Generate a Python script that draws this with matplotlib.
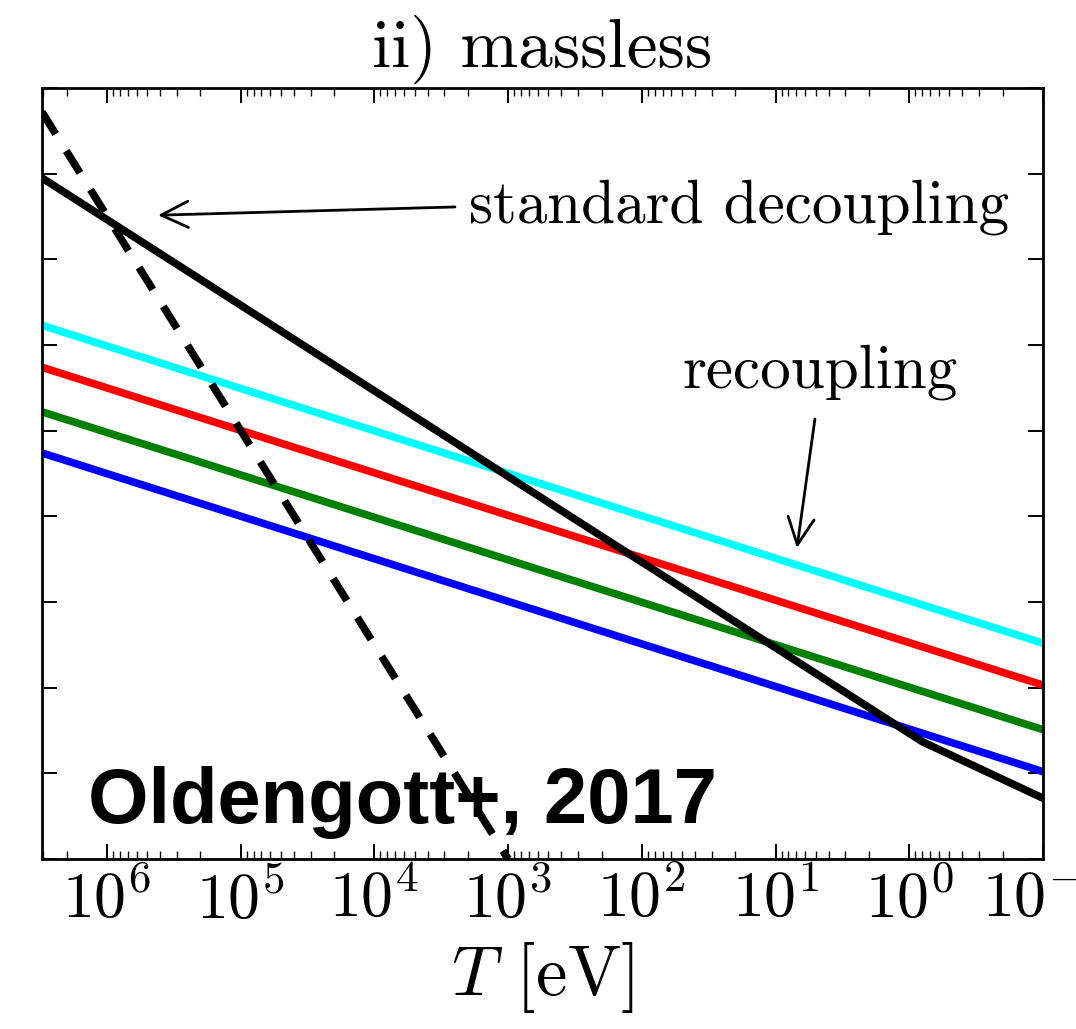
import matplotlib.pyplot as plt
import matplotlib.ticker as mticker

plt.rcParams['font.family'] = 'serif'
plt.rcParams['font.serif'] = ['cmr10']
plt.rcParams['mathtext.fontset'] = 'cm'
plt.rcParams['axes.formatter.use_mathtext'] = True

# values (T in eV, y in arbitrary units, log scale)
T_edges = [3.06e6, 0.1]
cyan_y = [10**2.23, 10**-1.48]
red_y = [10**1.74, 10**-1.97]
green_y = [10**1.22, 10**-2.49]
blue_y = [10**0.74, 10**-2.98]

std_T = [3.06e6, 0.80, 0.1]
std_y = [10**3.95, 10**-2.63, 10**-3.29]

dash_T = [3.06e6, 1.0e3]
dash_y = [10**4.72, 10**-4.0]

fig = plt.figure(figsize=(10.76, 10.29), dpi=100)
ax = fig.add_axes([0.039, 0.1652, 0.9303, 0.7493])

lw = 5.5
ax.plot(T_edges, cyan_y, color='cyan', lw=lw)
ax.plot(T_edges, red_y, color='red', lw=lw)
ax.plot(T_edges, green_y, color='green', lw=lw)
ax.plot(T_edges, blue_y, color='blue', lw=lw)
dl, = ax.plot(dash_T, dash_y, color='black', lw=lw, ls='--')
dl.set_dashes((3.4, 2.6))
ax.plot(std_T, std_y, color='black', lw=lw)

ax.set_xscale('log')
ax.set_yscale('log')
ax.set_xlim(3.06e6, 0.1)
ax.set_ylim(1e-4, 1e5)

ax.xaxis.set_major_locator(mticker.LogLocator(base=10, numticks=20))
ax.xaxis.set_minor_locator(mticker.LogLocator(base=10, subs=range(2, 10), numticks=20))
ax.yaxis.set_major_locator(mticker.LogLocator(base=10, numticks=20))
ax.yaxis.set_minor_locator(mticker.NullLocator())
ax.yaxis.set_major_formatter(mticker.NullFormatter())

ax.tick_params(which='both', direction='in', top=True, right=True)
ax.tick_params(which='major', length=11, width=1.4, labelsize=46, pad=8)
ax.tick_params(which='minor', length=6, width=1.0)
for s in ax.spines.values():
    s.set_linewidth(2)

ax.set_title('ii) massless', fontsize=50, pad=15)
ax.set_xlabel(r'$T$ [eV]', fontsize=51, labelpad=6)

# annotations
ax.text(0.4266, 0.825, 'standard decoupling', transform=ax.transAxes,
        fontsize=44, va='baseline', ha='left')
ax.annotate('', xy=(0.1159, 0.835), xytext=(0.4126, 0.8457),
            xycoords='axes fraction', textcoords='axes fraction',
            arrowprops=dict(arrowstyle='->,head_length=0.97,head_width=0.47',
                            lw=2, color='black', mutation_scale=20,
                            shrinkA=0, shrinkB=0))
ax.text(0.777, 0.612, 'recoupling', transform=ax.transAxes,
        fontsize=44, va='baseline', ha='center')
ax.annotate('', xy=(0.7542, 0.4034), xytext=(0.7722, 0.5707),
            xycoords='axes fraction', textcoords='axes fraction',
            arrowprops=dict(arrowstyle='->,head_length=0.97,head_width=0.47',
                            lw=2, color='black', mutation_scale=20,
                            shrinkA=0, shrinkB=0))

fig.text(0.0818, 0.2002, 'Oldengott+, 2017', fontsize=56, fontweight='bold',
         family='Liberation Sans', va='baseline', ha='left', zorder=10)

fig.savefig('out.png', dpi=100)
